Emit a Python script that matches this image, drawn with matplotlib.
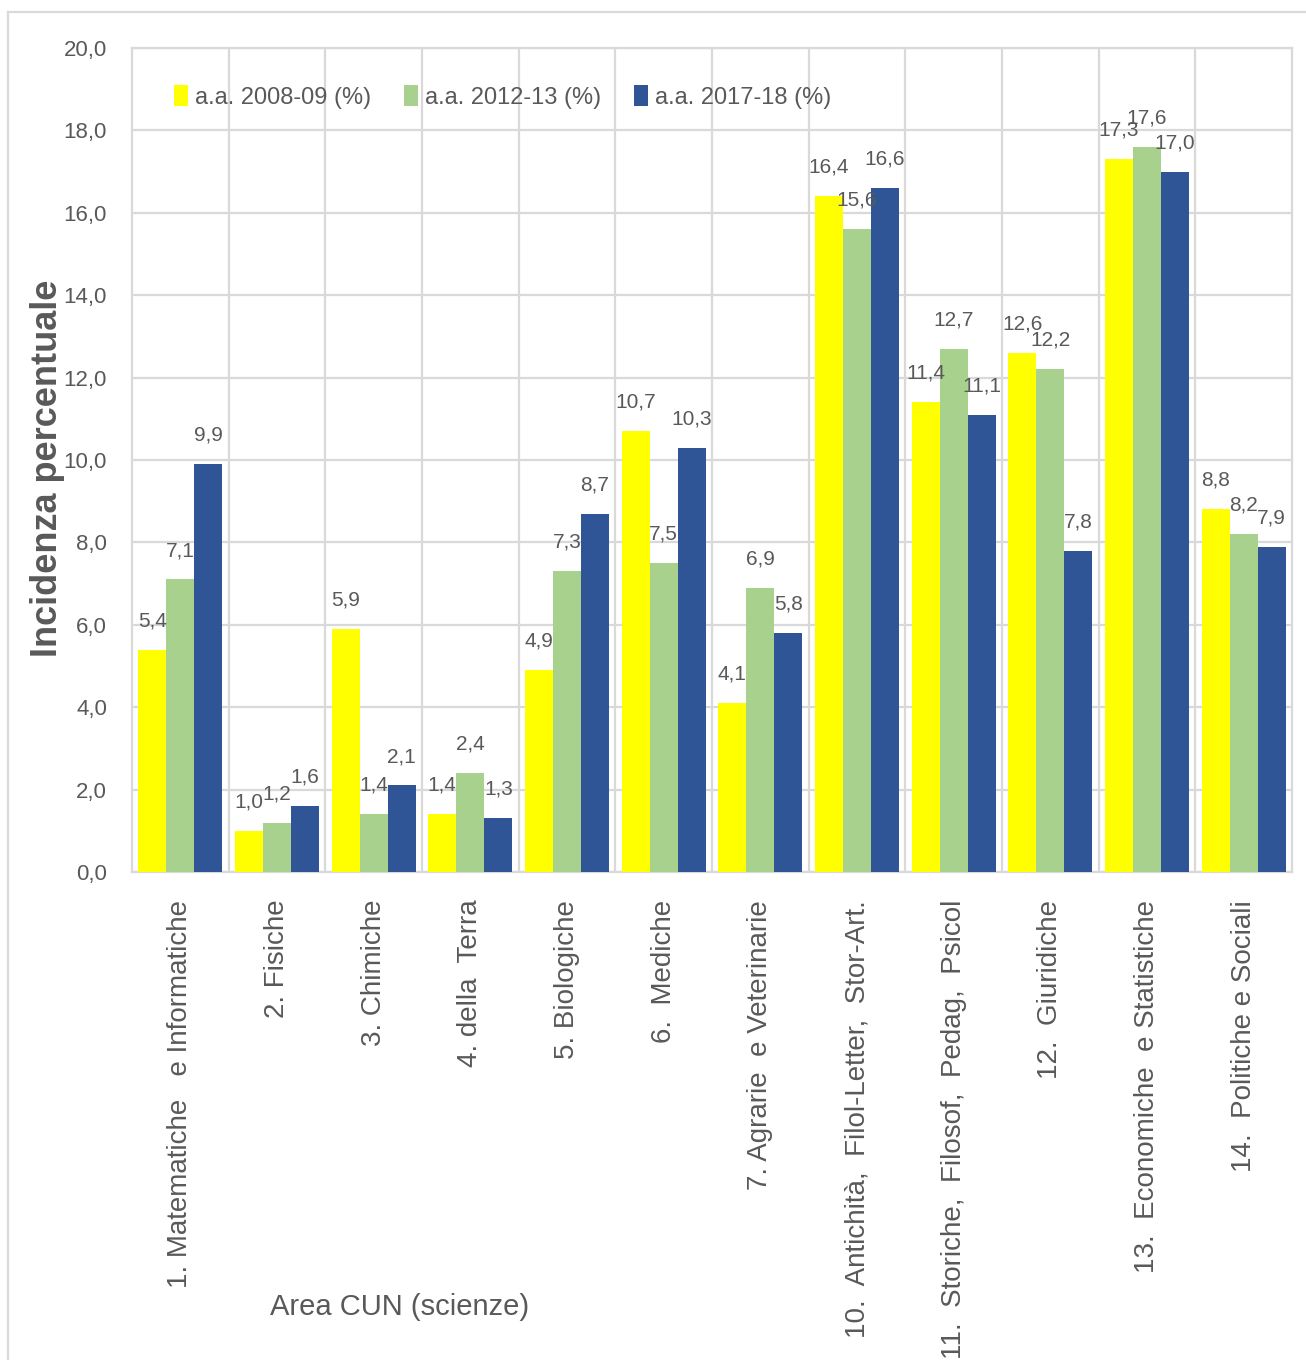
import numpy as np
import matplotlib
matplotlib.use('Agg')
import matplotlib.pyplot as plt
from matplotlib.ticker import FuncFormatter, FixedLocator
from matplotlib.lines import Line2D
from matplotlib import font_manager

# aree CUN (manca 8-9) e incidenza percentuale per anno accademico
aree = ['1. Matematiche   e Informatiche', '2. Fisiche', '3. Chimiche', '4. della  Terra',
        '5. Biologiche', '6.  Mediche', '7. Agrarie  e Veterinarie',
        '10.  Antichità,  Filol-Letter,  Stor-Art.', '11.  Storiche,  Filosof,  Pedag,  Psicol',
        '12.  Giuridiche', '13.  Economiche  e Statistiche', '14.  Politiche e Sociali']
anni = ['a.a. 2008-09 (%)', 'a.a. 2012-13 (%)', 'a.a. 2017-18 (%)']
v0809 = [5.4, 1.0, 5.9, 1.4, 4.9, 10.7, 4.1, 16.4, 11.4, 12.6, 17.3, 8.8]
v1213 = [7.1, 1.2, 1.4, 2.4, 7.3, 7.5, 6.9, 15.6, 12.7, 12.2, 17.6, 8.2]
v1718 = [9.9, 1.6, 2.1, 1.3, 8.7, 10.3, 5.8, 16.6, 11.1, 7.8, 17.0, 7.9]
colori = ['#FFFF00', '#A9D18E', '#2F5597']

grigio = '#595959'
griglia = '#D9D9D9'
normale = ['Liberation Sans', 'DejaVu Sans']

# se c'e' la versione Narrow la uso per i testi orizzontali
nomi = {f.name for f in font_manager.fontManager.ttflist}
if 'Liberation Sans Narrow' in nomi:
    stretto, k = ['Liberation Sans Narrow', 'DejaVu Sans'], 1.2
else:
    stretto, k = normale, 1.0

fig = plt.figure(figsize=(13.06, 13.6), dpi=100)
ax = fig.add_axes([132/1306, 1-872/1360, (1292-132)/1306, 824/1360])

x = np.arange(len(aree))
w = 0.29
for i, (serie, col) in enumerate(zip([v0809, v1213, v1718], colori)):
    pos = x + (i - 1) * w
    ax.bar(pos, serie, width=w, color=col, label=anni[i], zorder=3)
    for xp, v in zip(pos, serie):
        ax.annotate(f'{v:.1f}'.replace('.', ','), (xp, v), xytext=(0, 14),
                    textcoords='offset points', ha='center', va='bottom',
                    fontsize=15 * k, color=grigio, family=stretto, zorder=4)

ax.set_xlim(-0.5, len(aree) - 0.5)
ax.set_ylim(0, 20)
ax.set_yticks(np.arange(0, 21, 2))
ax.yaxis.set_major_formatter(FuncFormatter(lambda v, p: f'{v:.1f}'.replace('.', ',')))
ax.set_xticks(x)
ax.set_xticklabels(aree, rotation=90, ha='center', va='top', fontsize=20,
                   color=grigio, family=normale)
ax.xaxis.set_minor_locator(FixedLocator(x[:-1] + 0.5))
for lab in ax.get_yticklabels():
    lab.set_family(stretto)
    lab.set_fontsize(16 * k)
    lab.set_color(grigio)
ax.tick_params(axis='both', which='both', length=0)
ax.tick_params(axis='x', pad=20)
ax.tick_params(axis='y', pad=18)
ax.grid(True, axis='y', which='major', color=griglia, lw=1.6, zorder=0)
ax.grid(True, axis='x', which='minor', color=griglia, lw=1.6, zorder=0)
ax.grid(False, axis='x', which='major')
for s in ax.spines.values():
    s.set_color(griglia)
    s.set_linewidth(1.6)

ax.set_ylabel('Incidenza percentuale', fontsize=26, fontweight='bold', color=grigio,
              family=normale)
ax.yaxis.set_label_coords(-0.058, 0.49)

fig.text(400/1306, 1-1307/1360, 'Area CUN (scienze)', fontsize=21 * k, color=grigio,
         family=stretto, ha='center', va='center')

leg = fig.legend(loc='center left', bbox_to_anchor=(174/1306, 1-97/1360), ncol=3,
                 frameon=False, borderpad=0, borderaxespad=0, handlelength=0.6,
                 handleheight=0.95, handletextpad=0.28, columnspacing=1.4,
                 prop={'family': stretto, 'size': 17 * k})
for t in leg.get_texts():
    t.set_color(grigio)

# cornice esterna
fig.add_artist(Line2D([8/1306, 1.0], [1-12/1360, 1-12/1360], color=griglia, lw=1.6))
fig.add_artist(Line2D([8/1306, 8/1306], [0, 1-12/1360], color=griglia, lw=1.6))

fig.savefig('out.png', dpi=100)
